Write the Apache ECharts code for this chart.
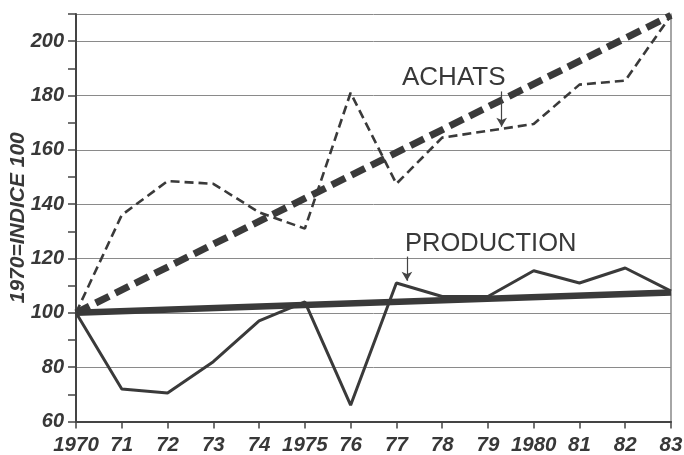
<!DOCTYPE html>
<html>
<head>
<meta charset="utf-8">
<script src="https://cdn.jsdelivr.net/npm/echarts@6/dist/echarts.min.js"></script>
<style>
html,body{margin:0;padding:0;background:#fff;}
#c{width:684px;height:455px;}
</style>
</head>
<body>
<div id="c"></div>
<script>
// ---- data ----
const years = [1970, 1971, 1972, 1973, 1974, 1975, 1976, 1977, 1978, 1979, 1980, 1981, 1982, 1983];
const production = [100, 72, 70.5, 82, 97, 104, 66, 111, 106, 106, 115.5, 111, 116.5, 108];
const achats = [100, 136, 148.5, 147.5, 137, 131, 181, 147.5, 164.5, 167, 169.5, 184, 185.5, 209.5];
const trendYears = [1970, 1983];
const productionTrend = [100, 107.5];
const achatsTrend = [100, 209.5];
const yTickLabels = [60, 80, 100, 120, 140, 160, 180, 200];
const fullYearLabels = [1970, 1975, 1980];
const yAxisTitle = '1970=INDICE 100';
const labelAchats = 'ACHATS';
const labelProduction = 'PRODUCTION';
// annotation arrows (data coordinates)
const arrowAchats = [[1979.3, 181.5], [1979.3, 168.5]];
const arrowProduction = [[1977.23, 120.7], [1977.23, 111.8]];

const pair = (xs, ys) => xs.map((x, i) => [x, ys[i]]);
const ink = '#383838';
const fam = '"Liberation Sans", Arial, Helvetica, sans-serif';

const chart = echarts.init(document.getElementById('c'));
chart.setOption({
  animation: false,
  backgroundColor: '#fff',
  grid: { left: 76, right: 13, top: 14, bottom: 33.5, containLabel: false, outerBoundsMode: 'none' },
  xAxis: {
    type: 'value', min: 1970, max: 1983, interval: 1,
    axisLine: { show: true, onZero: false, lineStyle: { color: '#444', width: 2 } },
    axisTick: { show: true, length: 7, lineStyle: { color: '#444', width: 1.5 } },
    splitLine: { show: false },
    axisLabel: {
      margin: 14, color: ink, fontFamily: fam, fontSize: 20.5, fontStyle: 'italic', fontWeight: 'bold',
      formatter: v => fullYearLabels.includes(v) ? String(v) : String(v % 100).padStart(2, '0')
    }
  },
  yAxis: [
    {
      type: 'value', min: 60, max: 210, interval: 10, position: 'left',
      name: yAxisTitle, nameLocation: 'middle', nameRotate: 90, nameGap: 47, nameMoveOverlap: false,
      nameTextStyle: { color: ink, fontFamily: fam, fontSize: 21, fontStyle: 'italic', fontWeight: 'bold' },
      axisLine: { show: true, lineStyle: { color: '#444', width: 2 } },
      axisTick: { show: true, length: 8, lineStyle: { color: '#444', width: 1.5 } },
      splitLine: { show: false },
      axisLabel: {
        margin: 12, color: ink, fontFamily: fam, fontSize: 20, fontStyle: 'italic', fontWeight: 'bold',
        formatter: v => yTickLabels.includes(v) ? String(v) : ''
      }
    },
    {
      type: 'value', min: 60, max: 210, interval: 20, position: 'right',
      axisLine: { show: true, lineStyle: { color: '#888', width: 1.5 } },
      axisTick: { show: false },
      axisLabel: { show: false },
      splitLine: { show: true, lineStyle: { color: '#8a8a8a', width: 1 } }
    }
  ],
  graphic: [
    { type: 'text', left: 402, top: 65, z: 100,
      style: { text: labelAchats, fill: ink, font: '26px ' + fam } },
    { type: 'text', left: 405, top: 231, z: 100,
      style: { text: labelProduction, fill: ink, font: '25.5px ' + fam } }
  ],
  series: [
    {
      type: 'line', data: pair(trendYears, achatsTrend), symbol: 'none', clip: false,
      lineStyle: { color: '#3a3a3a', width: 7, type: [15, 7], cap: 'butt' }, z: 2
    },
    {
      type: 'line', data: pair(trendYears, productionTrend), symbol: 'none', clip: false,
      lineStyle: { color: '#3a3a3a', width: 6.5 }, z: 2
    },
    {
      type: 'line', data: pair(years, achats), symbol: 'none', clip: false,
      lineStyle: { color: '#3a3a3a', width: 2.6, type: [9, 5] }, z: 3,
      markLine: {
        silent: true, symbol: ['none', 'arrow'], symbolSize: [8, 9],
        lineStyle: { type: 'solid', width: 1.2, color: '#444' },
        label: { show: false },
        data: [
          [{ coord: arrowAchats[0] }, { coord: arrowAchats[1] }],
          [{ coord: arrowProduction[0] }, { coord: arrowProduction[1] }]
        ]
      }
    },
    {
      type: 'line', data: pair(years, production), symbol: 'none', clip: false,
      lineStyle: { color: '#3a3a3a', width: 3 }, z: 3
    }
  ]
});
</script>
</body>
</html>
